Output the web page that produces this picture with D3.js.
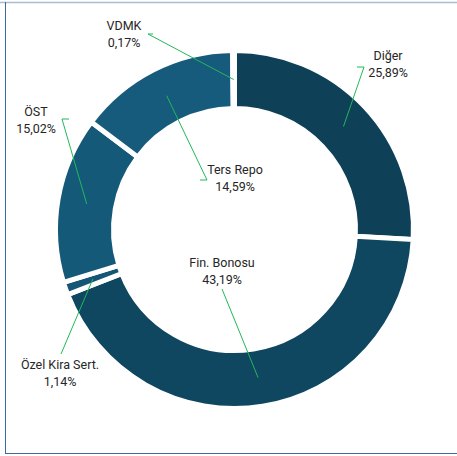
<!DOCTYPE html>
<html>
<head>
<meta charset="utf-8">
<script src="https://cdn.jsdelivr.net/npm/d3@7"></script>
<style>
  body { margin: 0; background: #fff; }
  text { font-family: Roboto, "Liberation Sans", sans-serif; font-size: 12.5px; fill: #262626; }
</style>
</head>
<body>
<div class="canvas"></div>
<script>
const width = 457;
const height = 456;

// data
const categories = ['Diğer', 'Fin. Bonosu', 'Özel Kira Sert.', 'ÖST', 'Ters Repo', 'VDMK'];
const shares = [25.89, 43.19, 1.14, 15.02, 14.59, 0.17];
const shareLabels = ['25,89%', '43,19%', '1,14%', '15,02%', '14,59%', '0,17%'];

// colours per slice
const colors = ['#0e4058', '#0f4660', '#145674', '#145a78', '#165b7b', '#165b7b'];

// label layout: text centre x, first line y, leader start point, horizontal tail
const labelPos = [
  {x: 388, y: 57, lx: 364, ly: 67, tail: -7},
  {x: 222, y: 264, lx: 222, ly: 289, tail: 0},
  {x: 60, y: 366, lx: 61, ly: 354, tail: 0},
  {x: 36, y: 113, lx: 62, ly: 119, tail: 7},
  {x: 235, y: 171, lx: 207, ly: 180, tail: -7},
  {x: 124, y: 27, lx: 148, ly: 34, tail: 5}
];

const data = categories.map((name, i) => ({name, value: shares[i], label: shareLabels[i], i}));

const svg = d3.select('.canvas')
  .append('svg')
    .attr('width', width)
    .attr('height', height);

// frame lines
svg.append('line')
  .attr('x1', 0).attr('x2', width).attr('y1', 2.5).attr('y2', 2.5)
  .attr('stroke', '#a9bdd3').attr('stroke-width', 1.5);
svg.append('line')
  .attr('x1', 5.5).attr('x2', 5.5).attr('y1', 2).attr('y2', 453.5)
  .attr('stroke', '#3d6a9c').attr('stroke-width', 1);
svg.append('line')
  .attr('x1', 5).attr('x2', width).attr('y1', 453.5).attr('y2', 453.5)
  .attr('stroke', '#3d6a9c').attr('stroke-width', 1);

const cx = 234.5, cy = 229.5;
const outerR = 179, innerR = 121;

const graph = svg.append('g')
  .attr('transform', `translate(${cx}, ${cy})`);

const pie = d3.pie()
  .value(d => d.value)
  .sort(null);

const arc = d3.arc()
  .innerRadius(innerR)
  .outerRadius(outerR);

const arcs = pie(data);

graph.selectAll('path')
  .data(arcs)
  .enter()
  .append('path')
    .attr('d', arc)
    .attr('fill', d => colors[d.data.i])
    .attr('stroke', '#fff')
    .attr('stroke-width', 5)
    .attr('stroke-linejoin', 'miter');

// leader lines from slice centroid to label
graph.selectAll('polyline')
  .data(arcs)
  .enter()
  .append('polyline')
    .attr('fill', 'none')
    .attr('stroke', '#22b85a')
    .attr('stroke-width', 1)
    .attr('points', d => {
      const p = labelPos[d.data.i];
      const c = arc.centroid(d);
      const pts = [];
      if (p.tail) pts.push([p.lx + p.tail - cx, p.ly - cy]);
      pts.push([p.lx - cx, p.ly - cy]);
      pts.push(c);
      return pts.map(q => q.join(',')).join(' ');
    });

// labels
const labels = svg.selectAll('text.lbl')
  .data(data)
  .enter()
  .append('text')
    .attr('class', 'lbl')
    .attr('text-anchor', 'middle');

labels.append('tspan')
  .attr('x', d => labelPos[d.i].x)
  .attr('y', d => labelPos[d.i].y)
  .attr('dominant-baseline', 'middle')
  .text(d => d.name);

labels.append('tspan')
  .attr('x', d => labelPos[d.i].x)
  .attr('y', d => labelPos[d.i].y + 17)
  .attr('dominant-baseline', 'middle')
  .text(d => d.label);
</script>
</body>
</html>
